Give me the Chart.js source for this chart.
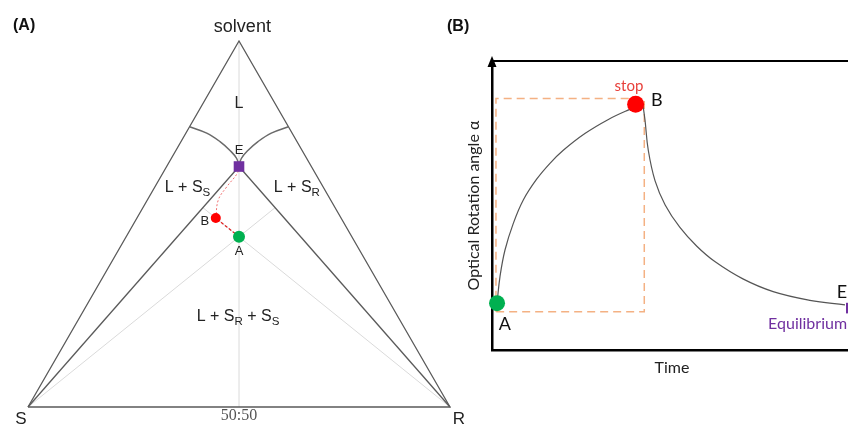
<!DOCTYPE html>
<html><head><meta charset="utf-8">
<script src="https://cdn.jsdelivr.net/npm/chart.js@4.4.1/dist/chart.umd.min.js"></script>
<style>
html,body{margin:0;padding:0;background:#fff;overflow:hidden;width:848px;height:427px;}
#ca{position:absolute;left:0;top:0;}
#cb{position:absolute;left:440px;top:0;}
</style></head><body>
<canvas id="ca" width="480" height="427"></canvas>
<canvas id="cb" width="430" height="427"></canvas>
<script>
// ---------- Panel A : ternary phase diagram (cartesian coords, S=(0,0), R=(1,0), solvent=(0.5,0.866)) ----------
const triangleEdges = [[0,0],[1,0],[0.5,0.866],[0,0]];
const innerLineS = [[0,0],[0.5,0.569]];
const innerLineR = [[1,0],[0.5,0.569]];
const lightVertical = [[0.5,0],[0.5,0.866]];
const lightFromS = [[0,0],[0.586,0.472]];
const lightFromR = [[1,0],[0.414,0.472]];
const arcLeft = [[0.383,0.663],[0.4235,0.648],[0.455,0.628],[0.4787,0.607],[0.4945,0.588],[0.5,0.569]];
const arcRight = [[0.5,0.569],[0.5055,0.588],[0.521,0.607],[0.545,0.628],[0.5765,0.648],[0.617,0.663]];
const pathBtoE = [[0.445,0.447],[0.451,0.49],[0.471,0.521],[0.496,0.553],[0.5,0.569]];
const pathAtoB = [[0.5,0.403],[0.445,0.447]];
const pointE_A = [0.5,0.569];
const pointB_A = [0.445,0.447];
const pointA_A = [0.5,0.403];

// ---------- Panel B : optical rotation vs time ----------
const riseCurve = [[1.4,16.2],[2.22,25.4],[3.61,34.6],[5.92,43.8],[8.69,51.9],[12.4,59.1],[16.1,64.6],[19.8,69.1],[25.8,74.9],[32.2,79.7],[37.8,83.0],[41.9,85.0]];
const decayCurve = [[41.9,85.0],[42.5,79.6],[43.4,69.2],[45.3,58.5],[48.1,50.2],[52.2,42.4],[56.9,35.9],[61.9,30.6],[69.7,24.6],[78.1,20.2],[88.3,17.2],[98.05,15.6]];
const stopBox = [[1.1,13.2],[1.1,87.0],[42.3,87.0],[42.3,13.2],[1.1,13.2]];
const pointA_B = [1.4,16.2];
const pointB_B = [39.9,85.0];
const pointE_B = [99.8,14.5];

const xy = a => a.map(p => ({x:p[0], y:p[1]}));

function drawRich(ctx, it, px, py){
  const size = it.size || 14;
  const fam = it.font || 'Liberation Sans, Arial, sans-serif';
  const parts = it.parts || [[it.text,false]];
  const w = parts.map(([t,sub]) => {
    ctx.font = (it.bold?'bold ':'') + (sub? size*0.72 : size) + 'px ' + fam;
    return ctx.measureText(t).width;
  });
  const total = w.reduce((a,b)=>a+b,0);
  let x0 = px;
  if ((it.align||'center') === 'center') x0 = px - total/2;
  else if (it.align === 'right') x0 = px - total;
  ctx.save();
  ctx.fillStyle = it.color || '#222';
  ctx.textBaseline = 'middle';
  ctx.textAlign = 'left';
  parts.forEach(([t,sub],i) => {
    ctx.font = (it.bold?'bold ':'') + (sub? size*0.72 : size) + 'px ' + fam;
    ctx.fillText(t, x0, sub ? py + size*0.28 : py);
    x0 += w[i];
  });
  ctx.restore();
}

const labelPlugin = {
  id: 'labels',
  afterDatasetsDraw(chart, args, opts){
    const {ctx, scales} = chart;
    const x = scales.x, y = scales.y;
    (opts.items||[]).forEach(it => drawRich(ctx, it, x.getPixelForValue(it.x), y.getPixelForValue(it.y)));
  }
};

const arrowPlugin = {
  id: 'arrows',
  afterDraw(chart, args, opts){
    if (!opts.on) return;
    const {ctx, chartArea:{left,right,top,bottom}} = chart;
    ctx.save();
    ctx.fillStyle = '#000';
    ctx.beginPath();
    ctx.moveTo(left, top-5); ctx.lineTo(left-4.5, top+6); ctx.lineTo(left+4.5, top+6); ctx.closePath(); ctx.fill();
    ctx.beginPath();
    ctx.moveTo(right+8, bottom); ctx.lineTo(right-3, bottom-4.5); ctx.lineTo(right-3, bottom+4.5); ctx.closePath(); ctx.fill();
    ctx.restore();
  }
};

let ord = 100;
function lineDs(data, color, width, extra){
  return Object.assign({data: xy(data), showLine:true, borderColor:color, borderWidth:width,
    pointRadius:0, pointHoverRadius:0, fill:false, clip:false, tension:0, order: ord--}, extra||{});
}
function pointDs(p, color, radius, style){
  return {data:[{x:p[0], y:p[1]}], showLine:false, pointRadius:radius, pointHoverRadius:radius,
    pointStyle: style||'circle', backgroundColor:color, borderColor:color, borderWidth:0, clip:false, order: ord--};
}

const SANS = 'Liberation Sans, Arial, sans-serif';
const CAL = 'Lato, Open Sans, sans-serif';

new Chart(document.getElementById('ca'), {
  type: 'scatter',
  data: { datasets: [
    lineDs(lightVertical, '#dadada', 1),
    lineDs(lightFromS, '#dadada', 1),
    lineDs(lightFromR, '#dadada', 1),
    lineDs(triangleEdges, '#5a5a5a', 1.3),
    lineDs(innerLineS, '#5a5a5a', 1.3),
    lineDs(innerLineR, '#5a5a5a', 1.3),
    lineDs(arcLeft, '#6a6a6a', 1.5, {tension:0.4}),
    lineDs(arcRight, '#6a6a6a', 1.5, {tension:0.4}),
    lineDs(pathBtoE, '#f07070', 1, {borderDash:[2,2], tension:0.4}),
    lineDs(pathAtoB, '#e02020', 1.2, {borderDash:[3,2]}),
    pointDs(pointE_A, '#7030A0', 7.5, 'rect'),
    pointDs(pointB_A, '#FF0000', 5),
    pointDs(pointA_A, '#00B050', 6)
  ]},
  options: {
    responsive:false, animation:false, events:[],
    layout:{padding:{left:28,right:30,top:41,bottom:20}},
    scales:{ x:{type:'linear',display:false,min:0,max:1}, y:{type:'linear',display:false,min:0,max:0.866} },
    plugins:{ legend:{display:false}, tooltip:{enabled:false},
      labels:{ items:[
        {x:-0.0355, y:0.9015, text:'(A)', size:16, bold:true, align:'left', color:'#111', font:SANS},
        {x:0.508, y:0.899, text:'solvent', size:18, color:'#222', font:SANS},
        {x:0.5, y:0.719, text:'L', size:16, font:SANS},
        {x:0.5, y:0.607, text:'E', size:13, font:SANS},
        {x:0.378, y:0.518, parts:[['L + S',false],['S',true]], size:16, font:SANS},
        {x:0.637, y:0.518, parts:[['L + S',false],['R',true]], size:16, font:SANS},
        {x:0.419, y:0.44, text:'B', size:13, font:SANS},
        {x:0.5, y:0.3675, text:'A', size:13, font:SANS},
        {x:0.4976, y:0.213, parts:[['L + S',false],['R',true],[' + S',false],['S',true]], size:16, font:SANS},
        {x:-0.0166, y:-0.028, text:'S', size:17, font:SANS},
        {x:1.021, y:-0.028, text:'R', size:17, font:SANS},
        {x:0.5, y:-0.021, text:'50:50', size:16, color:'#555', font:'Liberation Serif, Times New Roman, serif'}
      ]}
    }
  },
  plugins:[labelPlugin]
});

new Chart(document.getElementById('cb'), {
  type: 'scatter',
  data: { datasets: [
    lineDs(stopBox, '#F4B183', 1.5, {borderDash:[8,5]}),
    lineDs(riseCurve, '#555', 1.2, {tension:0.4}),
    lineDs(decayCurve, '#555', 1.2, {tension:0.4}),
    pointDs(pointA_B, '#00B050', 8),
    pointDs(pointB_B, '#FF0000', 8.5),
    pointDs(pointE_B, '#7030A0', 7.5, 'rect')
  ]},
  options: {
    responsive:false, animation:false, events:[],
    layout:{padding:{left:0,right:18,top:0,bottom:0}},
    scales:{
      x:{type:'linear',position:'bottom',min:0,max:100,
         ticks:{display:false}, grid:{display:false, drawTicks:false},
         border:{display:true,color:'#000',width:2.5},
         title:{display:true,text:'Time',color:'#222',font:{family:CAL,size:16},padding:{top:0,bottom:50}},
         afterFit(s){ s.height = 77; }},
      xTop:{type:'linear',position:'top',min:0,max:100,
         ticks:{display:false}, grid:{display:false, drawTicks:false},
         border:{display:true,color:'#000',width:2},
         afterFit(s){ s.height = 61; }},
      y:{type:'linear',position:'left',min:0,max:100,
         ticks:{display:false}, grid:{display:false, drawTicks:false},
         border:{display:true,color:'#000',width:2.5},
         title:{display:true,text:'Optical Rotation angle α',color:'#222',font:{family:CAL,size:16},padding:{top:24,bottom:0}},
         afterFit(s){ s.width = 52; }}
    },
    plugins:{ legend:{display:false}, tooltip:{enabled:false},
      arrows:{on:true},
      labels:{ items:[
        {x:-12.5, y:112, text:'(B)', size:16, bold:true, align:'left', color:'#111', font:SANS},
        {x:38.05, y:91.35, text:'stop', size:15, color:'#E8403A', font:CAL},
        {x:44.2, y:86.5, text:'B', size:18, align:'left', color:'#111', font:CAL},
        {x:3.6, y:9.0, text:'A', size:18, color:'#111', font:CAL},
        {x:97.2, y:20.1, text:'E', size:18, color:'#111', font:CAL},
        {x:76.7, y:9.2, text:'Equilibrium', size:16, align:'left', color:'#7030A0', font:CAL}
      ]}
    }
  },
  plugins:[labelPlugin, arrowPlugin]
});
</script>
</body></html>
